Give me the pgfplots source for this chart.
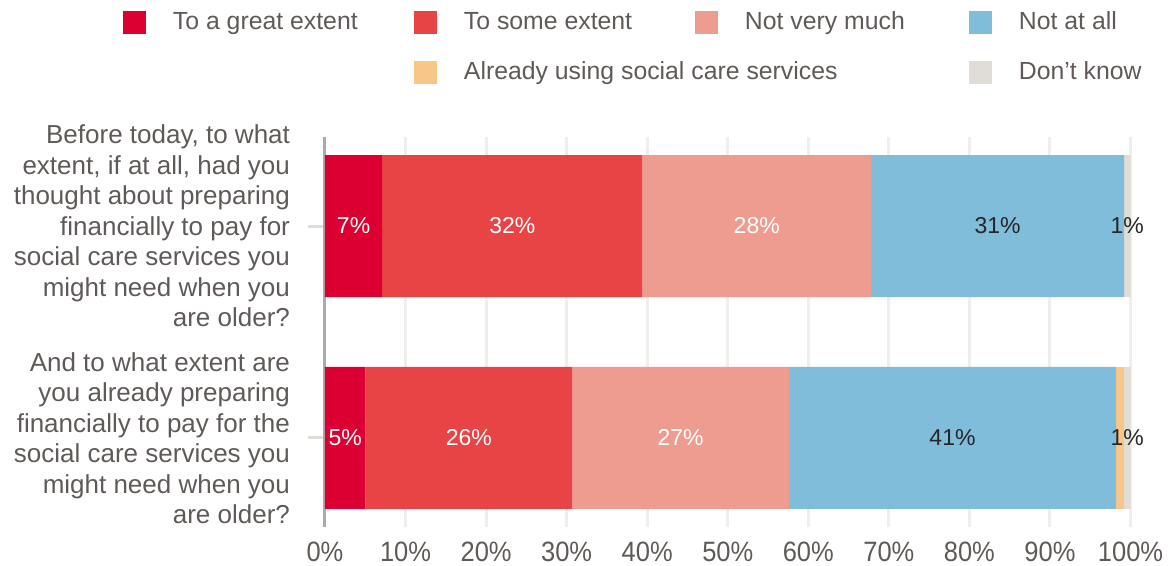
\documentclass[border=0pt]{standalone}
\usepackage{pgfplots}
\pgfplotsset{compat=1.18}
\usepackage{fontspec}
\setmainfont{Liberation Sans}
\newfontfamily\tickfont[FakeStretch=0.91]{Liberation Sans}
\definecolor{cgreat}{HTML}{DC0032}
\definecolor{csome}{HTML}{E84446}
\definecolor{cnotvery}{HTML}{EE9C90}
\definecolor{cnotall}{HTML}{7FBDDB}
\definecolor{calready}{HTML}{F8C686}
\definecolor{cdk}{HTML}{E0DDD6}
\definecolor{txt}{HTML}{5F5A58}
\definecolor{gridc}{HTML}{F0EEEA}
\definecolor{axisc}{HTML}{ABABAB}
\definecolor{tickc}{HTML}{E0DDD6}
\begin{document}
\begin{tikzpicture}
\pgfplotsset{sq legend/.style={legend image code/.code={\fill[##1,draw=none] (0pt,-5.75pt) rectangle (11.5pt,5.75pt);}}}
\begin{axis}[
  name=ax,
  xbar stacked,
  scale only axis,
  width=402.75pt, height=195pt,
  xmin=0, xmax=100,
  ymin=-0.42, ymax=1.42,
  bar width=71pt,
  axis lines*=left,
  x axis line style={draw=none},
  y axis line style={draw=axisc, line width=1.5pt},
  xmajorgrids,
  grid style={gridc, line width=1.5pt},
  xtick={0,10,...,100},
  xticklabel={\pgfmathprintnumber{\tick}\%},
  /pgf/number format/assume math mode=true,
  xticklabel style={font=\tickfont\fontsize{14}{16}\selectfont, text=txt, yshift=4.5pt},
  xtick style={draw=none},
  ytick={0,1},
  yticklabels={{And to what extent are\\you already preparing\\financially to pay for the\\social care services you\\might need when you\\are older?},
               {Before today, to what\\extent, if at all, had you\\thought about preparing\\financially to pay for\\social care services you\\might need when you\\are older?}},
  yticklabel style={align=right, font=\fontsize{13}{15.25}\selectfont, text=txt, xshift=-5.5pt},
  ytick style={draw=tickc, line width=1.5pt},
  tick align=outside,
  major tick length=8.5pt,
  legend columns=4,
  legend cell align=left,
  legend style={draw=none, fill=none, at={(0,1)}, anchor=north west,
    xshift=-101pt, yshift=62.8pt, inner sep=0pt, outer sep=0pt,
    font=\fontsize{12.4}{14}\selectfont, text=txt,
    row sep=13.5pt,
    nodes={inner sep=0pt, text height=9pt, text depth=2.5pt},
    /tikz/every odd column/.style={column sep=13.5pt},
    /tikz/every even column/.style={column sep=0pt}},
  nodes near coords={\pgfmathprintnumber[fixed,precision=0]{\pgfplotspointmeta}\%},
  every node near coord/.append style={font=\fontsize{11.5}{13}\selectfont},
]
\addplot[sq legend, fill=cgreat, draw=none, nodes near coords style={text=white}] coordinates {(5.0,0) (7.1,1)};
\addlegendentry{\makebox[120.5pt][l]{To a great extent}}
\addplot[sq legend, fill=csome, draw=none, nodes near coords style={text=white}] coordinates {(25.7,0) (32.3,1)};
\addlegendentry{\makebox[115.5pt][l]{To some extent}}
\addplot[sq legend, fill=cnotvery, draw=none, nodes near coords style={text=white}] coordinates {(26.9,0) (28.4,1)};
\addlegendentry{\makebox[112pt][l]{Not very much}}
\addplot[sq legend, fill=cnotall, draw=none, nodes near coords style={text=black!85}] coordinates {(40.6,0) (31.4,1)};
\addlegendentry{\makebox[75pt][l]{Not at all}}
\addlegendimage{empty legend}
\addlegendentry{}
\addplot[sq legend, fill=calready, draw=none, nodes near coords={}] coordinates {(1.0,0) (0,1)};
\addlegendentry{\makebox[115.5pt][l]{Already using social care services}}
\addlegendimage{empty legend}
\addlegendentry{}
\addplot[sq legend, fill=cdk, draw=none, nodes near coords style={text=black!85}] coordinates {(0.8,0) (0.8,1)};
\addlegendentry{\makebox[75pt][l]{Don’t know}}
\end{axis}
\pgfresetboundingbox
\path ([shift={(-162.5pt,-19.5pt)}]ax.south west) rectangle ([shift={(21.25pt,68.5pt)}]ax.north east);
\end{tikzpicture}
\end{document}
